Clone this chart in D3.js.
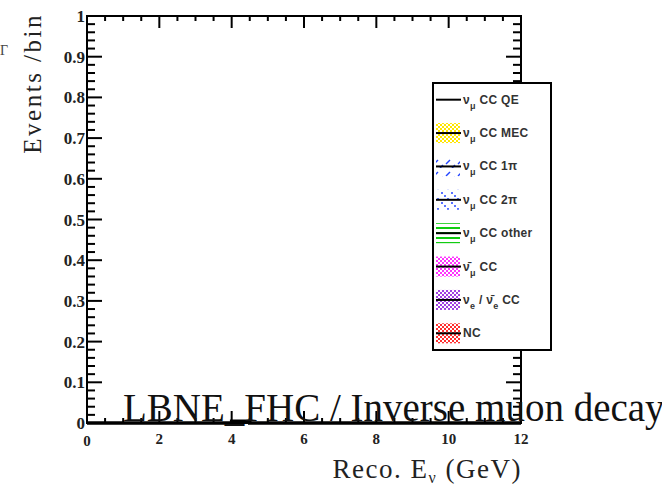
<!DOCTYPE html>
<html>
<head>
<meta charset="utf-8">
<script src="https://cdn.jsdelivr.net/npm/d3@7"></script>
<style>
  body { margin: 0; background: #fff; }
  svg { display: block; }
</style>
</head>
<body>
<div class="chart"></div>
<script>
// bin edges (GeV) and stacked series, all empty except a tiny bump
const binEdges = [0, 0.5, 1, 1.5, 2, 2.5, 3, 3.5, 4, 4.5, 5, 5.5, 6, 6.5, 7, 7.5, 8, 8.5, 9, 9.5, 10, 10.5, 11, 11.5, 12];
const ccQE    = [0, 0, 0, 0, 0, 0, 0, 0, 0.004, 0, 0, 0, 0, 0, 0, 0, 0, 0, 0, 0, 0, 0, 0, 0];
const ccMEC   = [0, 0, 0, 0, 0, 0, 0, 0, 0, 0, 0, 0, 0, 0, 0, 0, 0, 0, 0, 0, 0, 0, 0, 0];
const cc1pi   = [0, 0, 0, 0, 0, 0, 0, 0, 0, 0, 0, 0, 0, 0, 0, 0, 0, 0, 0, 0, 0, 0, 0, 0];
const cc2pi   = [0, 0, 0, 0, 0, 0, 0, 0, 0, 0, 0, 0, 0, 0, 0, 0, 0, 0, 0, 0, 0, 0, 0, 0];
const ccOther = [0, 0, 0, 0, 0, 0, 0, 0, 0, 0, 0, 0, 0, 0, 0, 0, 0, 0, 0, 0, 0, 0, 0, 0];
const numubar = [0, 0, 0, 0, 0, 0, 0, 0, 0, 0, 0, 0, 0, 0, 0, 0, 0, 0, 0, 0, 0, 0, 0, 0];
const nueCC   = [0, 0, 0, 0, 0, 0, 0, 0, 0, 0, 0, 0, 0, 0, 0, 0, 0, 0, 0, 0, 0, 0, 0, 0];
const ncAll   = [0, 0, 0, 0, 0, 0, 0, 0, 0, 0, 0, 0, 0, 0, 0, 0, 0, 0, 0, 0, 0, 0, 0, 0];

const xTicks = [0, 2, 4, 6, 8, 10, 12];
const yTicks = [0, 0.1, 0.2, 0.3, 0.4, 0.5, 0.6, 0.7, 0.8, 0.9, 1];
const yTickLabels = ["0", "0.1", "0.2", "0.3", "0.4", "0.5", "0.6", "0.7", "0.8", "0.9", "1"];

const series = [
    {key: "qe",    main: "ν", sub: "μ", rest: " CC QE",    values: ccQE,    fill: "none"},
    {key: "mec",   main: "ν", sub: "μ", rest: " CC MEC",   values: ccMEC,   fill: "url(#pYellow)"},
    {key: "1pi",   main: "ν", sub: "μ", rest: " CC 1π",    values: cc1pi,   fill: "url(#pBlueDash)"},
    {key: "2pi",   main: "ν", sub: "μ", rest: " CC 2π",    values: cc2pi,   fill: "url(#pBlueDot)"},
    {key: "other", main: "ν", sub: "μ", rest: " CC other", values: ccOther, fill: "url(#pGreen)"},
    {key: "bar",   main: "ν̄", sub: "μ", rest: " CC",       values: numubar, fill: "url(#pMagenta)"},
    {key: "nue",   main: "ν", sub: "e", rest: " / ν̄",      values: nueCC,   fill: "url(#pPurple)", sub2: "e", rest2: " CC"},
    {key: "nc",    main: "NC", sub: "", rest: "",          values: ncAll,   fill: "url(#pRed)"}
];

const W = 662, H = 490;
const svg = d3.select(".chart").append("svg")
    .attr("width", W)
    .attr("height", H);

// hatch patterns
const defs = svg.append("defs");
function crossHatch(id, color){
    const p = defs.append("pattern").attr("id", id)
        .attr("width", 4).attr("height", 4)
        .attr("patternUnits", "userSpaceOnUse");
    p.append("rect").attr("width", 2).attr("height", 2).attr("fill", color);
    p.append("rect").attr("x", 2).attr("y", 2).attr("width", 2).attr("height", 2).attr("fill", color);
}
crossHatch("pYellow", "#ffe600");
crossHatch("pMagenta", "#ff33ff");
crossHatch("pPurple", "#a040e0");
crossHatch("pRed", "#ff3030");

let pd = defs.append("pattern").attr("id", "pBlueDash")
    .attr("width", 12).attr("height", 12)
    .attr("patternUnits", "userSpaceOnUse");
pd.append("path").attr("d", "M2,8 L6,4").attr("stroke", "#2244ff").attr("stroke-width", 1.5);
pd.append("path").attr("d", "M8,12 L11,9").attr("stroke", "#2244ff").attr("stroke-width", 1.5);

let pdot = defs.append("pattern").attr("id", "pBlueDot")
    .attr("width", 10).attr("height", 10)
    .attr("patternUnits", "userSpaceOnUse");
pdot.append("circle").attr("cx", 2).attr("cy", 3).attr("r", 1).attr("fill", "#2244ff");
pdot.append("circle").attr("cx", 5).attr("cy", 6).attr("r", 1).attr("fill", "#2244ff");
pdot.append("circle").attr("cx", 8).attr("cy", 9).attr("r", 1).attr("fill", "#2244ff");

let pg = defs.append("pattern").attr("id", "pGreen")
    .attr("width", 24).attr("height", 10)
    .attr("patternUnits", "userSpaceOnUse");
pg.append("rect").attr("y", 2).attr("width", 24).attr("height", 2).attr("fill", "#11cc11");
pg.append("rect").attr("y", 7).attr("width", 24).attr("height", 2).attr("fill", "#11cc11");

// frame
const x0 = 87, x1 = 521, y0 = 423, y1 = 16;
const xScale = d3.scaleLinear().domain([0, 12]).range([x0, x1]);
const yScale = d3.scaleLinear().domain([0, 1]).range([y0, y1]);

// stacked histogram
const stackRows = binEdges.slice(0, -1).map(function(e, i){
    let row = {lo: e, hi: binEdges[i + 1]};
    series.forEach(function(s){ row[s.key] = s.values[i]; });
    return row;
});
const stacked = d3.stack().keys(series.map(function(s){ return s.key; }).reverse())(stackRows);

const plot = svg.append("g");
stacked.forEach(function(layer){
    const s = series.find(function(d){ return d.key === layer.key; });
    plot.selectAll(null)
        .data(layer)
        .enter()
        .append("rect")
        .attr("x", function(d){ return xScale(d.data.lo); })
        .attr("width", function(d){ return xScale(d.data.hi) - xScale(d.data.lo); })
        .attr("y", function(d){ return yScale(d[1]); })
        .attr("height", function(d){ return yScale(d[0]) - yScale(d[1]); })
        .attr("fill", s.fill);
});

// total outline, drawn as a step line
const total = stackRows.map(function(r){
    return d3.sum(series, function(s){ return r[s.key]; });
});
let stepPts = [];
stackRows.forEach(function(r, i){
    stepPts.push([r.lo, total[i]]);
    stepPts.push([r.hi, total[i]]);
});
plot.append("path")
    .datum(stepPts)
    .attr("fill", "none")
    .attr("stroke", "#000")
    .attr("stroke-width", 3.5)
    .attr("d", d3.line()
        .x(function(d){ return xScale(d[0]); })
        .y(function(d){ return yScale(d[1]); }));

// axes frame
const axes = svg.append("g").attr("stroke", "#000").attr("stroke-width", 2);
axes.append("rect")
    .attr("x", x0).attr("y", y1)
    .attr("width", x1 - x0).attr("height", y0 - y1)
    .attr("fill", "none");

// y ticks, both sides pointing inward
const yMinor = d3.range(0, 1.0001, 0.02);
yMinor.forEach(function(v){
    const major = Math.abs(v * 10 - Math.round(v * 10)) < 1e-6;
    const len = major ? 15 : 8;
    axes.append("line").attr("x1", x0).attr("x2", x0 + len)
        .attr("y1", yScale(v)).attr("y2", yScale(v));
    axes.append("line").attr("x1", x1).attr("x2", x1 - len)
        .attr("y1", yScale(v)).attr("y2", yScale(v));
});

// x ticks top and bottom
const xMinor = d3.range(0, 12.0001, 0.5);
xMinor.forEach(function(v){
    const major = Math.abs(v / 2 - Math.round(v / 2)) < 1e-6;
    const len = major ? 12 : 5;
    axes.append("line").attr("x1", xScale(v)).attr("x2", xScale(v))
        .attr("y1", y1).attr("y2", y1 + len);
    axes.append("line").attr("x1", xScale(v)).attr("x2", xScale(v))
        .attr("y1", y0).attr("y2", y0 - len);
});

// tick labels
svg.selectAll(".ylab")
    .data(yTicks)
    .enter()
    .append("text")
    .attr("class", "ylab")
    .attr("x", x0 - 2)
    .attr("y", function(d){ return yScale(d) + 6; })
    .attr("text-anchor", "end")
    .attr("font-family", "Liberation Serif")
    .attr("font-weight", "bold")
    .attr("font-size", 17)
    .attr("fill", "#222")
    .text(function(d, i){ return yTickLabels[i]; });

svg.selectAll(".xlab")
    .data(xTicks)
    .enter()
    .append("text")
    .attr("class", "xlab")
    .attr("x", function(d){ return xScale(d); })
    .attr("y", function(d){ return d === 0 ? 446 : 444; })
    .attr("text-anchor", "middle")
    .attr("font-family", "Liberation Serif")
    .attr("font-weight", "bold")
    .attr("font-size", 15)
    .attr("fill", "#222")
    .text(function(d){ return d; });

// axis titles
const xt = svg.append("text")
    .attr("x", x1 + 1)
    .attr("y", 478)
    .attr("text-anchor", "end")
    .attr("font-family", "Liberation Serif")
    .attr("font-size", 27)
    .attr("letter-spacing", 1.5)
    .attr("fill", "#222");
xt.append("tspan").text("Reco. E");
xt.append("tspan").attr("font-size", 16).attr("dy", 5).text("ν");
xt.append("tspan").attr("dy", -5).text(" (GeV)");

svg.append("text")
    .attr("transform", "translate(41,13) rotate(-90)")
    .attr("text-anchor", "end")
    .attr("font-family", "Liberation Serif")
    .attr("font-size", 25)
    .attr("letter-spacing", 2.5)
    .attr("fill", "#222")
    .text("Events /bin");

svg.append("text")
    .attr("x", 0)
    .attr("y", 55)
    .attr("font-family", "Liberation Serif")
    .attr("font-size", 14)
    .attr("fill", "#444")
    .text("Γ");

// legend
const legX = 433, legY = 83, legW = 118, legH = 267;
const legend = svg.append("g");
legend.append("rect")
    .attr("x", legX).attr("y", legY)
    .attr("width", legW).attr("height", legH)
    .attr("fill", "#fff")
    .attr("stroke", "#000")
    .attr("stroke-width", 2);

const rowY = d3.scaleBand()
    .domain(series.map(function(s){ return s.key; }))
    .range([legY, legY + legH]);

series.forEach(function(s){
    const cy = rowY(s.key) + rowY.bandwidth() / 2;
    if(s.fill !== "none"){
        legend.append("rect")
            .attr("x", legX + 3).attr("y", cy - 10)
            .attr("width", 24).attr("height", 20)
            .attr("fill", s.fill);
    }
    legend.append("line")
        .attr("x1", legX + 3).attr("x2", legX + 28)
        .attr("y1", cy).attr("y2", cy)
        .attr("stroke", "#000").attr("stroke-width", 2);
    const t = legend.append("text")
        .attr("x", legX + 30)
        .attr("y", cy + 4)
        .attr("font-family", "Liberation Sans")
        .attr("font-weight", "bold")
        .attr("font-size", 12)
        .attr("letter-spacing", 0.3)
        .attr("fill", "#333");
    t.append("tspan").text(s.main);
    if(s.sub){
        t.append("tspan").attr("font-size", 9).attr("dy", 5).text(s.sub);
        t.append("tspan").attr("dy", -5).text(s.rest);
    }
    if(s.sub2){
        t.append("tspan").attr("font-size", 9).attr("dy", 5).text(s.sub2);
        t.append("tspan").attr("dy", -5).text(s.rest2);
    }
});

// overlay title
svg.append("text")
    .attr("x", 123)
    .attr("y", 421)
    .attr("font-family", "Liberation Serif")
    .attr("font-size", 39)
    .attr("fill", "#111")
    .text("LBNE_FHC / Inverse muon decay");
</script>
</body>
</html>
